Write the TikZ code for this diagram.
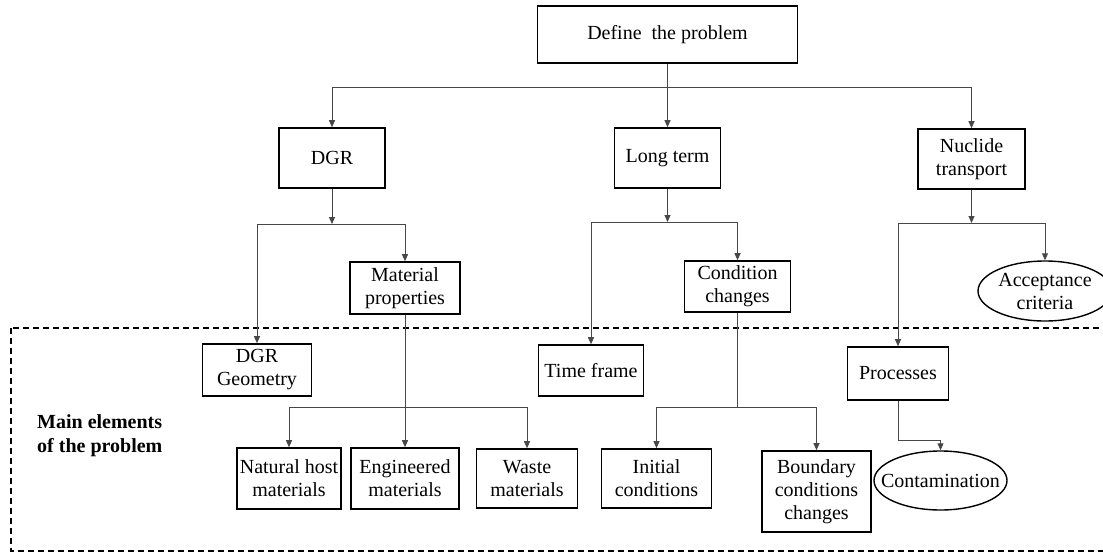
\documentclass[tikz,border=0pt]{standalone}
\usepackage{fontspec}
\setmainfont{Liberation Serif}
\usetikzlibrary{arrows.meta,shapes.geometric}
\begin{document}
\begin{tikzpicture}[x=1pt,y=-1pt,
  every node/.style={font=\fontsize{20}{23}\selectfont, align=center, inner sep=0pt},
  bx/.style={draw=black, line width=1.6pt, rectangle},
  ov/.style={draw=black, line width=1.4pt, ellipse},
  link/.style={draw=black!72, line width=0.9pt},
  arr/.style={link, -{Triangle[length=7pt,width=6pt]}},
  frame/.style={draw=black, line width=1.5pt, dash pattern=on 6pt off 4pt}]
\useasboundingbox (0,0) rectangle (1103,552);
\fill[white] (0,0) rectangle (1103,552);

% dashed frame around the main elements (runs past the right edge)
\draw[frame] (11,328) rectangle (1112,551);
\node[font=\bfseries\fontsize{20}{24}\selectfont, align=left, anchor=west] (lbl) at (37,436) {Main elements\\of the problem};

% top level
\node[bx, minimum width=260pt, minimum height=57pt] (def) at (667.5,34.5) {Define~~the problem};

% second level
\node[bx, minimum width=106pt, minimum height=60pt] (dgr) at (332,158) {DGR};
\node[bx, minimum width=106pt, minimum height=60pt] (lt) at (667.5,158) {Long term};
\node[bx, minimum width=107pt, minimum height=60pt] (nt) at (971.5,159) {Nuclide\\transport};

% third level
\node[bx, minimum width=110pt, minimum height=52pt] (mp) at (405,288) {Material\\properties};
\node[bx, minimum width=109pt, minimum height=52pt] (geo) at (257,370) {DGR\\Geometry};
\node[bx, minimum width=105pt, minimum height=51pt] (tf) at (591,370.5) {Time frame};
\node[bx, minimum width=106pt, minimum height=51pt] (cc) at (737.5,286.5) {Condition\\changes};
\node[bx, minimum width=101pt, minimum height=53pt] (pr) at (898,373.5) {Processes};
\node[ov, minimum width=134pt, minimum height=60pt, label={center:Acceptance\\criteria}] (ac) at (1045,291) {};

% fourth level
\node[bx, minimum width=104pt, minimum height=61pt] (nh) at (289,478.5) {Natural host\\materials};
\node[bx, minimum width=108pt, minimum height=61pt] (em) at (405,478.5) {Engineered\\materials};
\node[bx, minimum width=101pt, minimum height=59pt] (wm) at (527,478.5) {Waste\\materials};
\node[bx, minimum width=110pt, minimum height=59pt] (ic) at (656.5,478.5) {Initial\\conditions};
\node[bx, minimum width=109pt, minimum height=81pt] (bc) at (816.5,491.5) {Boundary\\conditions\\changes};
\node[ov, minimum width=133pt, minimum height=59pt, label={center:Contamination}] (co) at (940.5,480.5) {};

% branching points
\coordinate (bus1) at (667.5,87);
\coordinate (bus2) at (332,224);
\coordinate (bus3) at (667.5,222);
\coordinate (bus4) at (971.5,223);
\coordinate (bus5) at (405,407);
\coordinate (bus6) at (737.5,407);

% connectors
\draw[arr] (def.south) -- (lt.north);
\draw[arr] (bus1) -| (dgr.north);
\draw[arr] (bus1) -| (nt.north);

\draw[arr] (dgr.south) -- (bus2);
\draw[arr] (bus2) -| (geo.north);
\draw[arr] (bus2) -| (mp.north);

\draw[arr] (lt.south) -- (bus3);
\draw[arr] (bus3) -| (tf.north);
\draw[arr] (bus3) -| (cc.north);

\draw[arr] (nt.south) -- (bus4);
\draw[arr] (bus4) -| (pr.north);
\draw[arr] (bus4) -| (ac.north);

\draw[arr] (mp.south) -- (em.north);
\draw[arr] (bus5) -| (nh.north);
\draw[arr] (bus5) -| (wm.north);

\draw[link] (cc.south) -- (bus6);
\draw[arr] (bus6) -| (ic.north);
\draw[arr] (bus6) -| (bc.north);

\draw[arr] (pr.south) -- ++(0,40) -| (co.north);
\end{tikzpicture}
\end{document}
